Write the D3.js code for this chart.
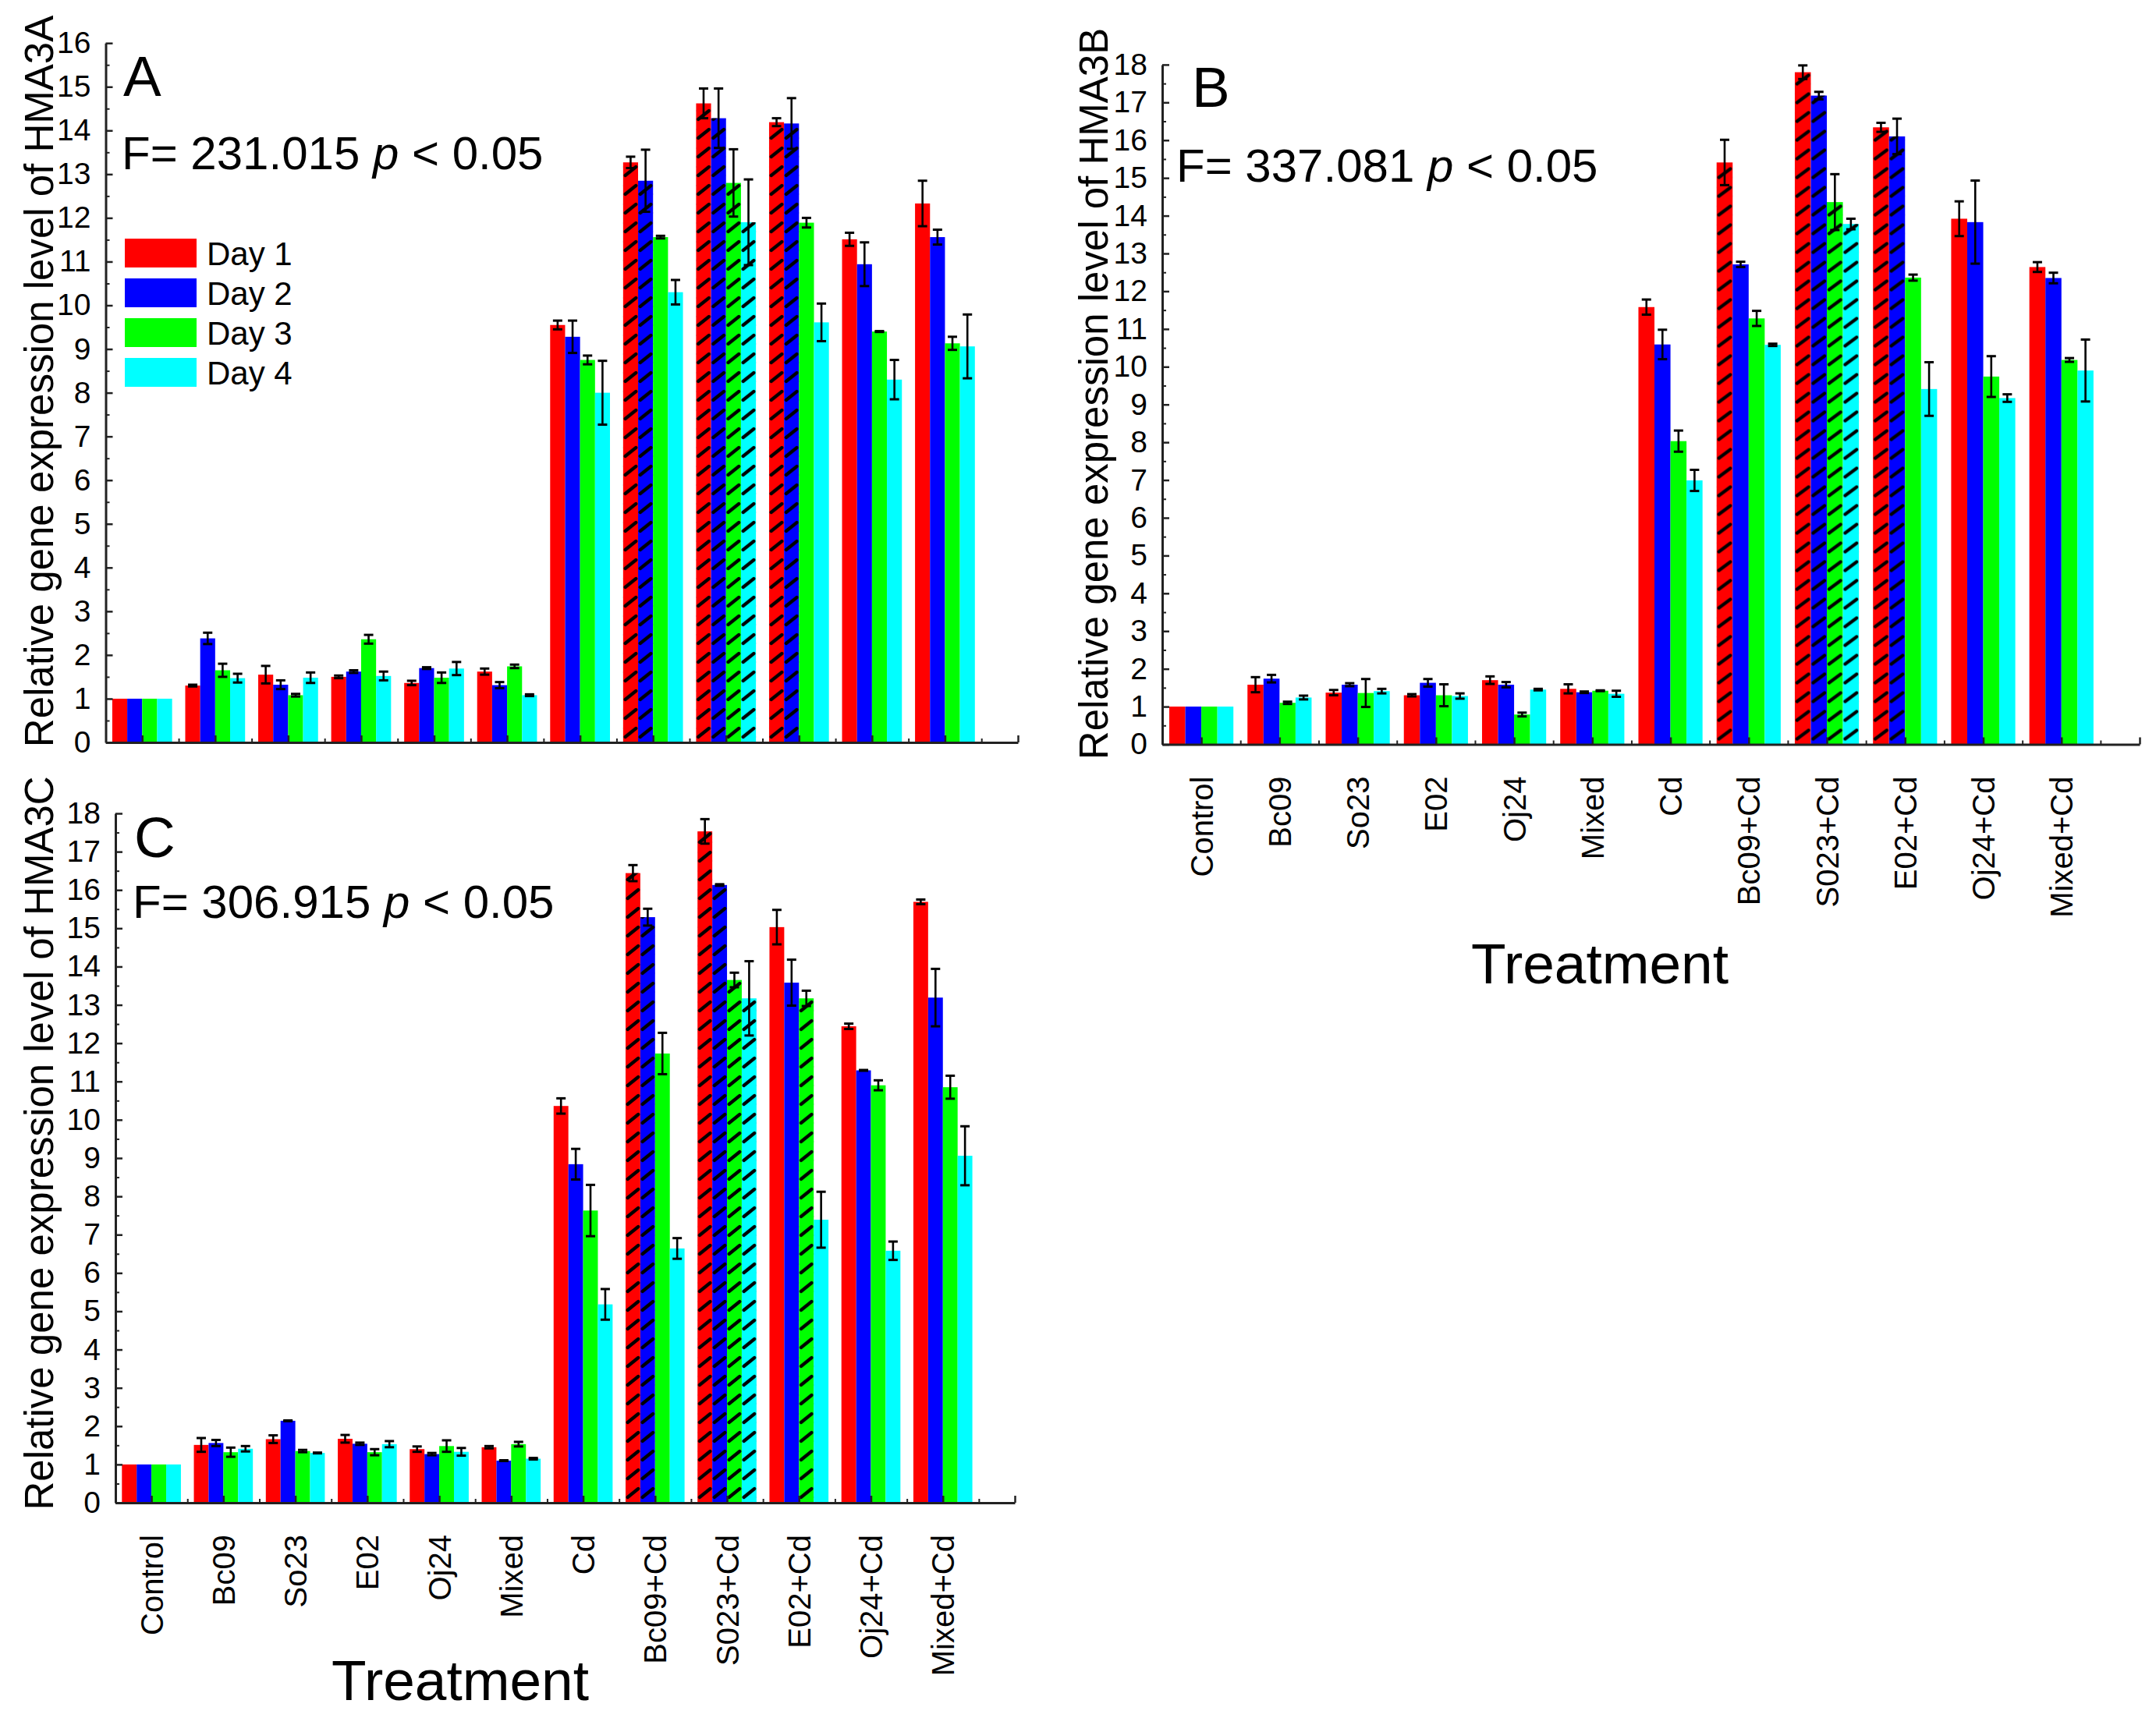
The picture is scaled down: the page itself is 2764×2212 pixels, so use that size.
<!DOCTYPE html>
<html><head><meta charset="utf-8">
<script src="https://cdn.jsdelivr.net/npm/d3@7/dist/d3.min.js"></script>
<style>
body{margin:0;background:#fff}
text{font-family:"Liberation Sans",Arial,Helvetica,sans-serif;fill:#000}
</style>
</head><body>
<svg id="chart" width="2764" height="2212"></svg>
<script>
// ---------- DATA ----------
const categories = ["Control","Bc09","So23","E02","Oj24","Mixed","Cd","Bc09+Cd","S023+Cd","E02+Cd","Oj24+Cd","Mixed+Cd"];
const seriesNames = ["Day 1","Day 2","Day 3","Day 4"];
const seriesColors = ["#ff0000","#0000ff","#00ff00","#00ffff"];

// Panel A: HMA3A
const hma3aDay1 = [1.0, 1.30, 1.55, 1.50, 1.36, 1.62, 9.55, 13.27, 14.62, 14.19, 11.51, 12.33];
const hma3aDay2 = [1.0, 2.38, 1.32, 1.62, 1.70, 1.31, 9.28, 12.85, 14.28, 14.16, 10.94, 11.56];
const hma3aDay3 = [1.0, 1.65, 1.08, 2.36, 1.48, 1.74, 8.75, 11.56, 12.80, 11.89, 9.40, 9.13];
const hma3aDay4 = [1.0, 1.47, 1.48, 1.52, 1.69, 1.08, 8.00, 10.30, 11.90, 9.61, 8.30, 9.06];
const hma3aErr1 = [0, 0.02, 0.20, 0.03, 0.05, 0.07, 0.10, 0.13, 0.34, 0.09, 0.15, 0.52];
const hma3aErr2 = [0, 0.13, 0.10, 0.03, 0.02, 0.07, 0.37, 0.71, 0.68, 0.58, 0.50, 0.17];
const hma3aErr3 = [0, 0.15, 0.03, 0.10, 0.12, 0.04, 0.10, 0.03, 0.77, 0.11, 0.01, 0.15];
const hma3aErr4 = [0, 0.10, 0.12, 0.10, 0.15, 0.02, 0.73, 0.28, 0.98, 0.43, 0.45, 0.73];
const hma3aHatch = [[7,0],[7,1],[8,0],[8,1],[8,2],[8,3],[9,0],[9,1]];

// Panel B: HMA3B
const hma3bDay1 = [1.0, 1.58, 1.37, 1.30, 1.70, 1.47, 11.58, 15.41, 17.80, 16.34, 13.92, 12.64];
const hma3bDay2 = [1.0, 1.74, 1.58, 1.63, 1.58, 1.38, 10.59, 12.71, 17.18, 16.10, 13.83, 12.35];
const hma3bDay3 = [1.0, 1.10, 1.36, 1.30, 0.79, 1.42, 8.03, 11.28, 14.36, 12.36, 9.74, 10.18];
const hma3bDay4 = [1.0, 1.24, 1.41, 1.28, 1.45, 1.34, 6.99, 10.58, 13.78, 9.41, 9.17, 9.90];
const hma3bErr1 = [0, 0.20, 0.07, 0.03, 0.10, 0.12, 0.20, 0.60, 0.18, 0.12, 0.46, 0.13];
const hma3bErr2 = [0, 0.10, 0.04, 0.10, 0.07, 0.02, 0.39, 0.07, 0.10, 0.47, 1.10, 0.14];
const hma3bErr3 = [0, 0.03, 0.37, 0.29, 0.05, 0.01, 0.28, 0.20, 0.74, 0.08, 0.54, 0.05];
const hma3bErr4 = [0, 0.05, 0.06, 0.07, 0.02, 0.08, 0.28, 0.03, 0.14, 0.71, 0.10, 0.82];
const hma3bHatch = [[7,0],[8,0],[8,1],[8,2],[8,3],[9,0],[9,1]];

// Panel C: HMA3C
const hma3cDay1 = [1.0, 1.51, 1.66, 1.67, 1.40, 1.45, 10.36, 16.44, 17.53, 15.03, 12.44, 15.69];
const hma3cDay2 = [1.0, 1.56, 2.14, 1.54, 1.27, 1.10, 8.84, 15.29, 16.13, 13.58, 11.29, 13.19];
const hma3cDay3 = [1.0, 1.32, 1.35, 1.32, 1.48, 1.53, 7.63, 11.73, 13.65, 13.17, 10.90, 10.85];
const hma3cDay4 = [1.0, 1.41, 1.30, 1.53, 1.33, 1.15, 5.18, 6.64, 13.17, 7.39, 6.58, 9.06];
const hma3cErr1 = [0, 0.18, 0.10, 0.10, 0.07, 0.03, 0.20, 0.21, 0.32, 0.45, 0.07, 0.06];
const hma3cErr2 = [0, 0.08, 0.01, 0.03, 0.03, 0.01, 0.40, 0.22, 0.02, 0.60, 0.01, 0.75];
const hma3cErr3 = [0, 0.12, 0.03, 0.08, 0.15, 0.06, 0.67, 0.54, 0.19, 0.20, 0.13, 0.30];
const hma3cErr4 = [0, 0.07, 0.01, 0.08, 0.10, 0.02, 0.40, 0.27, 0.97, 0.73, 0.24, 0.77];
const hma3cHatch = [[7,0],[7,1],[8,0],[8,1],[8,2],[8,3],[9,2]];

const yTicksA = d3.range(0, 17);
const yTicksBC = d3.range(0, 19);

// ---------- LAYOUT ----------
const panels = [
  {id:"A", gene:"HMA3A", fStat:"231.015",
   values:[hma3aDay1,hma3aDay2,hma3aDay3,hma3aDay4], errors:[hma3aErr1,hma3aErr2,hma3aErr3,hma3aErr4],
   hatch:hma3aHatch, ticks:yTicksA,
   axisX:135.5, xEnd:1305, y0:952, yTop:55.2,
   letter:[158,123], fPos:[156,217], titlePos:[68,489], xLabels:false, legend:true},
  {id:"B", gene:"HMA3B", fStat:"337.081",
   values:[hma3bDay1,hma3bDay2,hma3bDay3,hma3bDay4], errors:[hma3bErr1,hma3bErr2,hma3bErr3,hma3bErr4],
   hatch:hma3bHatch, ticks:yTicksBC,
   axisX:1490, xEnd:2743, y0:954.5, yTop:82.9,
   letter:[1528,137], fPos:[1508,233], titlePos:[1420,505], xLabels:true, xTitle:[2051,1261], legend:false},
  {id:"C", gene:"HMA3C", fStat:"306.915",
   values:[hma3cDay1,hma3cDay2,hma3cDay3,hma3cDay4], errors:[hma3cErr1,hma3cErr2,hma3cErr3,hma3cErr4],
   hatch:hma3cHatch, ticks:yTicksBC,
   axisX:148, xEnd:1301, y0:1927, yTop:1043,
   letter:[172,1099], fPos:[170,1177], titlePos:[68,1466], xLabels:true, xTitle:[590,2180], legend:false}
];

const svg = d3.select("#chart");
const defs = svg.append("defs");
const groupFrac = 0.82;
const axisColor = "#222";

panels.forEach(p => {
  const g = svg.append("g").attr("class","panel-"+p.id);
  const nBands = 12.5;
  const x = d3.scaleLinear().domain([0, nBands]).range([p.axisX, p.xEnd]);
  const yMax = p.ticks[p.ticks.length-1];
  const y = d3.scaleLinear().domain([0, yMax]).range([p.y0, p.yTop]);
  const sub = d3.scaleBand().domain(d3.range(seriesNames.length)).range([0, groupFrac]).padding(0);
  const unit = x(1) - x(0);
  const bw = sub.bandwidth() * unit;
  const hatchSet = new Set(p.hatch.map(d => d[0]+"-"+d[1]));

  const bars = [];
  categories.forEach((c, i) => {
    seriesNames.forEach((s, k) => {
      bars.push({i, k, v:p.values[k][i], e:p.errors[k][i],
        x0: x(i + 0.5 - groupFrac/2 + sub(k)), hatched: hatchSet.has(i+"-"+k)});
    });
  });

  // bars
  g.append("g").selectAll("rect").data(bars).join("rect")
    .attr("x", d => d.x0).attr("width", bw)
    .attr("y", d => y(d.v)).attr("height", d => y(0) - y(d.v))
    .attr("fill", d => seriesColors[d.k]);

  // hatching
  bars.filter(d => d.hatched).forEach(d => {
    const pid = `hatch-${p.id}-${d.i}-${d.k}`;
    const pat = defs.append("pattern").attr("id", pid)
      .attr("patternUnits","userSpaceOnUse")
      .attr("x", d.x0).attr("y", p.y0)
      .attr("width", bw).attr("height", 24);
    pat.append("line")
      .attr("x1", bw*0.14).attr("y1", 17).attr("x2", bw*0.86).attr("y2", 6)
      .attr("stroke","#000").attr("stroke-width",4.2).attr("stroke-linecap","round");
    g.append("rect").attr("x", d.x0).attr("width", bw)
      .attr("y", y(d.v)).attr("height", y(0) - y(d.v))
      .attr("fill", `url(#${pid})`);
  });

  // error bars
  const eb = g.append("g").attr("stroke","#000").attr("fill","none");
  bars.filter(d => d.e > 0).forEach(d => {
    const cx = d.x0 + bw/2, yt = y(d.v + d.e), yb = y(d.v - d.e), cw = 6;
    eb.append("line").attr("x1",cx).attr("x2",cx).attr("y1",yt).attr("y2",yb).attr("stroke-width",2.6);
    eb.append("line").attr("x1",cx-cw).attr("x2",cx+cw).attr("y1",yt).attr("y2",yt).attr("stroke-width",3);
    eb.append("line").attr("x1",cx-cw).attr("x2",cx+cw).attr("y1",yb).attr("y2",yb).attr("stroke-width",3);
  });

  // y axis (major ticks inward + minor half ticks)
  const yAxis = g.append("g").attr("transform", `translate(${p.axisX},0)`)
    .call(d3.axisLeft(y).tickValues(p.ticks).tickFormat(d3.format("d")).tickSizeInner(-9).tickSizeOuter(0).tickPadding(19));
  yAxis.select(".domain").attr("stroke", axisColor).attr("stroke-width", 3);
  yAxis.selectAll(".tick line").attr("stroke", axisColor).attr("stroke-width", 2.5);
  yAxis.selectAll(".tick text").attr("font-size", 39).attr("font-family",'"Liberation Sans",Arial,sans-serif').attr("fill","#000");
  const minorY = p.ticks.slice(0,-1).map(t => t + 0.5);
  const yMinor = g.append("g").attr("transform", `translate(${p.axisX},0)`)
    .call(d3.axisLeft(y).tickValues(minorY).tickFormat("").tickSizeInner(-5).tickSizeOuter(0));
  yMinor.select(".domain").remove();
  yMinor.selectAll(".tick line").attr("stroke", axisColor).attr("stroke-width", 2);

  // x axis
  const majorX = d3.range(0, 13).map(i => i + 0.5);
  const xAxis = g.append("g").attr("transform", `translate(0,${p.y0})`)
    .call(d3.axisBottom(x).tickValues(majorX)
      .tickFormat((d, i) => p.xLabels && i < categories.length ? categories[i] : "")
      .tickSizeInner(-9).tickSizeOuter(0));
  xAxis.select(".domain").attr("stroke", axisColor).attr("stroke-width", 3);
  xAxis.selectAll(".tick line").attr("stroke", axisColor).attr("stroke-width", 2.5);
  xAxis.selectAll(".tick text")
    .attr("font-size", 40).attr("font-family",'"Liberation Sans",Arial,sans-serif').attr("fill","#000")
    .attr("transform","rotate(-90)").attr("x", -41).attr("y", 0).attr("dy","0.35em")
    .attr("text-anchor","end");
  const xMinor = g.append("g").attr("transform", `translate(0,${p.y0})`)
    .call(d3.axisBottom(x).tickValues(d3.range(1, 13)).tickFormat("").tickSizeInner(-5).tickSizeOuter(0));
  xMinor.select(".domain").remove();
  xMinor.selectAll(".tick line").attr("stroke", axisColor).attr("stroke-width", 2);

  // y title
  g.append("text").attr("transform", `translate(${p.titlePos[0]},${p.titlePos[1]}) rotate(-90)`)
    .attr("text-anchor","middle").attr("font-size",51)
    .text("Relative gene expression level of " + p.gene);

  // x title
  if (p.xTitle) {
    g.append("text").attr("x", p.xTitle[0]).attr("y", p.xTitle[1])
      .attr("text-anchor","middle").attr("font-size",73).text("Treatment");
  }

  // panel letter
  g.append("text").attr("x", p.letter[0]).attr("y", p.letter[1]).attr("font-size",73).text(p.id);

  // F statistic
  const ft = g.append("text").attr("x", p.fPos[0]).attr("y", p.fPos[1]).attr("font-size",60)
    .style("white-space","pre");
  ft.append("tspan").text("F= " + p.fStat + " ");
  ft.append("tspan").attr("font-style","italic").text("p");
  ft.append("tspan").text(" < 0.05");

  // legend
  if (p.legend) {
    const lg = g.append("g");
    seriesNames.forEach((s, k) => {
      const top = 306 + k * 51;
      lg.append("rect").attr("x",160).attr("y",top).attr("width",92).attr("height",37).attr("fill",seriesColors[k]);
      lg.append("text").attr("x",265).attr("y",top+34).attr("font-size",42).text(s);
    });
  }
});
</script>
</body></html>
